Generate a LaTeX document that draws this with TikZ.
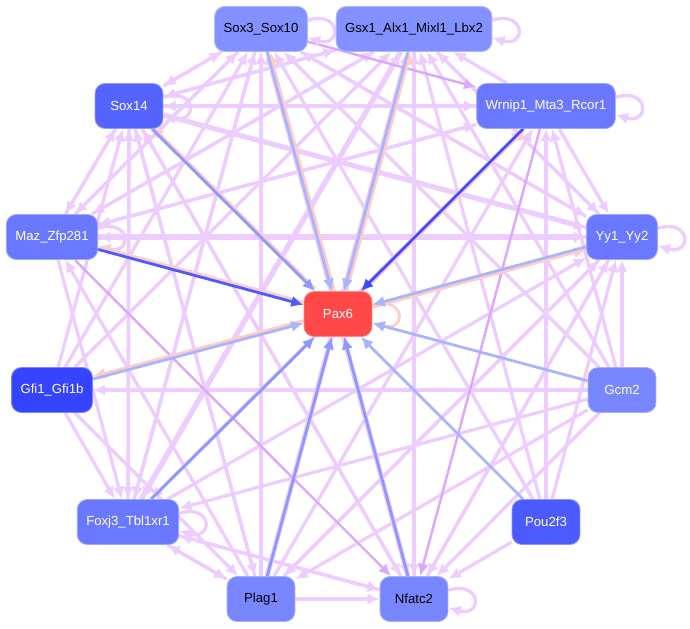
\documentclass[tikz,border=0pt]{standalone}
\usepackage{fontspec}
\setmainfont{Liberation Sans}
\usetikzlibrary{arrows.meta,backgrounds}

\definecolor{tfpurple}{HTML}{EDCCFF}
\definecolor{tfdark}{HTML}{DCA8FF}
\definecolor{peach}{HTML}{FFCCC6}
\definecolor{bluelight}{HTML}{A9B4FF}
\definecolor{bluemid}{HTML}{8D99FF}
\definecolor{bluedark}{HTML}{3D4BFF}
\definecolor{cpax}{HTML}{FF4848}
\definecolor{cpale}{HTML}{8390FF}
\definecolor{clight}{HTML}{7886FF}
\definecolor{cmid}{HTML}{6A78FF}
\definecolor{cdeep}{HTML}{5563FF}
\definecolor{cpou}{HTML}{4C5BFF}
\definecolor{cgfi}{HTML}{3444FF}

\tikzset{
  gene/.style={fill=#1, draw=#1!65!white, line width=0.5pt, rounded corners=0.2cm,
    minimum width=1.36cm, minimum height=0.9cm, inner xsep=0.18cm,
    font=\fontsize{7.5}{9}\selectfont},
  tf/.style={->, draw=tfpurple, line width=1.9pt},
  tfthick/.style={->, draw=tfpurple, line width=2.9pt},
  tfdeep/.style={->, draw=tfdark, line width=1.4pt},
  topax/.style={->, draw=#1, line width=1.6pt},
  frompax/.style={->, draw=peach, line width=1.6pt},
}

\begin{document}
\begin{tikzpicture}[x=0.02cm, y=-0.02cm, >={Latex[length=7pt,width=6.5pt]}]
\useasboundingbox (0,0) rectangle (690,629);
% genes
\node[gene=cpale, text=black] (sox3) at (261,29) {Sox3\_Sox10};
\node[gene=cpale, text=black] (gsx1) at (414,29) {Gsx1\_Alx1\_Mixl1\_Lbx2};
\node[gene=cmid, text=white] (wrnip) at (546,106) {Wrnip1\_Mta3\_Rcor1};
\node[gene=cdeep, text=white] (sox14) at (129,106) {Sox14};
\node[gene=cmid, text=white] (maz) at (52,237) {Maz\_Zfp281};
\node[gene=cmid, text=white] (yy1) at (622,237) {Yy1\_Yy2};
\node[gene=cpax, text=white] (pax) at (338,314) {Pax6};
\node[gene=cgfi, text=white] (gfi1) at (52,390) {Gfi1\_Gfi1b};
\node[gene=clight, text=white] (gcm2) at (622,390) {Gcm2};
\node[gene=cmid, text=white] (foxj3) at (128,522) {Foxj3\_Tbl1xr1};
\node[gene=cpou, text=white] (pou2f3) at (546,522) {Pou2f3};
\node[gene=clight, text=black] (plag1) at (261,599) {Plag1};
\node[gene=clight, text=black] (nfatc2) at (414,599) {Nfatc2};

\begin{scope}[on background layer]
% purple regulatory links
\foreach \s/\t in {maz/sox3, sox14/sox3, foxj3/sox3, plag1/sox3, yy1/sox3, gcm2/sox3, pou2f3/sox3, gfi1/sox3,
  sox14/gsx1, maz/gsx1, nfatc2/gsx1, yy1/gsx1, wrnip/gsx1, gcm2/gsx1, pou2f3/gsx1, gfi1/gsx1,
  sox14/wrnip, maz/wrnip, plag1/wrnip, foxj3/wrnip, gcm2/wrnip, pou2f3/wrnip,
  sox3/sox14, gsx1/sox14, wrnip/sox14, maz/sox14, yy1/sox14, foxj3/sox14, plag1/sox14, nfatc2/sox14, gfi1/sox14,
  sox3/maz, gsx1/maz, sox14/maz, wrnip/maz, yy1/maz, plag1/maz,
  sox3/yy1, gsx1/yy1, wrnip/yy1, gcm2/yy1, foxj3/yy1, plag1/yy1, nfatc2/yy1, pou2f3/yy1,
  sox3/foxj3, sox14/foxj3, maz/foxj3, gfi1/foxj3, gcm2/foxj3, plag1/foxj3, nfatc2/foxj3, wrnip/foxj3,
  foxj3/plag1, sox14/plag1, gfi1/plag1, yy1/plag1, gcm2/plag1,
  plag1/nfatc2, foxj3/nfatc2, sox14/nfatc2, sox3/nfatc2, gsx1/nfatc2, yy1/nfatc2, gcm2/nfatc2, pou2f3/nfatc2,
  gcm2/gfi1}
  \draw[tf] (\s) -- (\t);
\foreach \s/\t in {plag1/gsx1, nfatc2/sox3, foxj3/gsx1, sox14/yy1, maz/yy1, gsx1/foxj3}
  \draw[tfthick] (\s) -- (\t);
\foreach \s/\t in {sox3/wrnip, maz/nfatc2, wrnip/nfatc2}
  \draw[tfdeep] (\s) -- (\t);

% self loops
\foreach \g in {sox3, gsx1, wrnip, sox14, maz, yy1, foxj3, nfatc2}
  \draw[tf] ([yshift=5pt]\g.east) .. controls +(34,-10) and +(34,10) .. ([yshift=-5pt]\g.east);
\draw[frompax] ([yshift=5pt]pax.east) .. controls +(34,-10) and +(34,10) .. ([yshift=-5pt]pax.east);

% Pax6 out
\draw[frompax, transform canvas={xshift=1.5pt}] (pax) -- (sox3);
\draw[frompax, transform canvas={xshift=1.5pt}] (pax) -- (gsx1);
\draw[frompax, transform canvas={yshift=1.5pt}] (pax) -- (sox14);
\draw[frompax, transform canvas={yshift=1.5pt}] (pax) -- (maz);
\draw[frompax, transform canvas={yshift=1.5pt}] (pax) -- (gfi1);
\draw[frompax, transform canvas={yshift=-1.5pt}] (pax) -- (yy1);
\draw[frompax, transform canvas={xshift=1.5pt}] (pax) -- (wrnip);

% Pax6 in
\foreach \s/\c in {sox3/bluelight, gsx1/bluelight, sox14/bluemid, maz/cpou, wrnip/bluedark,
  yy1/bluelight, gcm2/bluelight, pou2f3/bluelight, nfatc2/bluemid, plag1/bluemid,
  foxj3/bluemid, gfi1/bluelight}
  \draw[topax=\c] (\s) -- (pax);
\end{scope}
\end{tikzpicture}
\end{document}
